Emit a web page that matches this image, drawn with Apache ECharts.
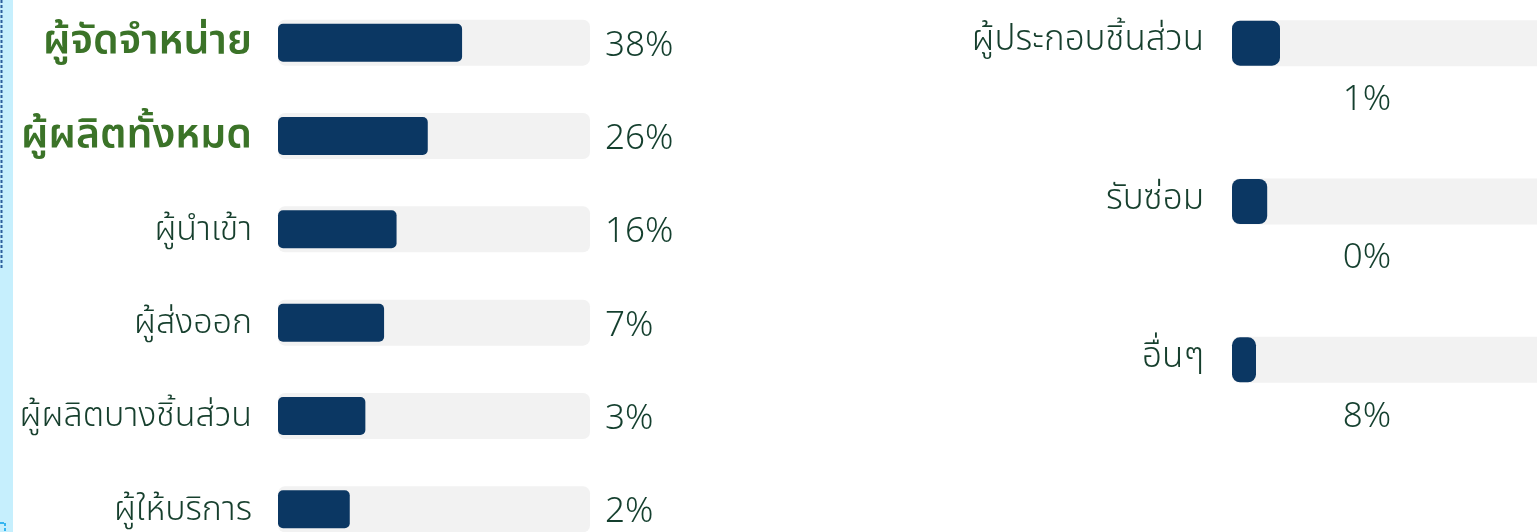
<!DOCTYPE html>
<html>
<head>
<meta charset="utf-8">
<title>chart</title>
<script src="https://cdn.jsdelivr.net/npm/echarts@6/dist/echarts.min.js"></script>
<style>
  html, body { margin: 0; padding: 0; background: #fff; }
  #main { width: 1537px; height: 532px; }
</style>
</head>
<body>
<div id="main"></div>
<script>
// ข้อมูลฝั่งซ้าย
var leftCategories = ['ผู้จัดจำหน่าย', 'ผู้ผลิตทั้งหมด', 'ผู้นำเข้า', 'ผู้ส่งออก', 'ผู้ผลิตบางชิ้นส่วน', 'ผู้ให้บริการ'];
var leftPct = ['38%', '26%', '16%', '7%', '3%', '2%'];
// ความยาวแท่ง (อ่านจากภาพ, หน่วยเทียบกับราง = 100)
var leftBar = [59, 48, 38, 34, 28, 23];

// ข้อมูลฝั่งขวา
var rightCategories = ['ผู้ประกอบชิ้นส่วน', 'รับซ่อม', 'อื่นๆ'];
var rightPct = ['1%', '0%', '8%'];
var rightBar = [15, 11, 7.5];

var trackMax = 100;
var boldRows = [0, 1];

var thaiFont = '"Noto Sans Thai", "Loma", "Garuda", "Noto Sans", sans-serif';

function fill(arr) {
	return arr.map(function () { return trackMax; });
}

var myChart = echarts.init(document.getElementById('main'));

myChart.setOption({
	animation: false,
	backgroundColor: '#fff',
	grid: [
		{ left: 278, top: -4, width: 312, height: 560, outerBoundsMode: 'none' },
		{ left: 1232, top: -36, width: 320, height: 475, outerBoundsMode: 'none' }
	],
	xAxis: [
		{ gridIndex: 0, type: 'value', min: 0, max: trackMax, show: false },
		{ gridIndex: 1, type: 'value', min: 0, max: trackMax, show: false }
	],
	yAxis: [
		{
			gridIndex: 0, type: 'category', inverse: true, data: leftCategories,
			axisLine: { show: false }, axisTick: { show: false },
			axisLabel: {
				margin: 26,
				fontFamily: thaiFont,
				fontSize: 34,
				fontWeight: 300,
				color: '#163f2d',
				padding: [7, 0, 0, 0],
				formatter: function (v, i) {
					return boldRows.indexOf(i) >= 0 ? '{b|' + v + '}' : v;
				},
				rich: {
					b: { fontFamily: thaiFont, fontSize: 41, fontWeight: 600, color: '#3b7328' }
				}
			}
		},
		{ gridIndex: 0, type: 'category', inverse: true, data: leftCategories, show: false },
		{
			gridIndex: 1, type: 'category', inverse: true, data: rightCategories,
			axisLine: { show: false }, axisTick: { show: false },
			axisLabel: { margin: 28, fontFamily: thaiFont, fontSize: 35, fontWeight: 300, color: '#163f2d', padding: [6, 0, 0, 0] }
		},
		{ gridIndex: 1, type: 'category', inverse: true, data: rightCategories, show: false }
	],
	series: [
		// รางพื้นหลัง ซ้าย
		{
			type: 'bar', xAxisIndex: 0, yAxisIndex: 0, data: fill(leftBar),
			barWidth: 46, silent: true,
			itemStyle: { color: '#f2f2f2', borderRadius: 7 },
			label: {
				show: true, position: 'right', distance: 15, offset: [0, 3],
				fontFamily: '"Noto Sans", sans-serif', fontSize: 35, fontWeight: 300, color: '#143f2e',
				formatter: function (p) { return leftPct[p.dataIndex]; }
			}
		},
		// แท่งค่า ซ้าย
		{
			type: 'bar', xAxisIndex: 0, yAxisIndex: 1, data: leftBar,
			barWidth: 38,
			itemStyle: { color: '#0b3763', borderRadius: 5 }
		},
		// รางพื้นหลัง ขวา
		{
			type: 'bar', xAxisIndex: 1, yAxisIndex: 2, data: fill(rightBar),
			barWidth: 46, silent: true,
			itemStyle: { color: '#f2f2f2', borderRadius: 7 },
			label: {
				show: true, position: [135, 80], align: 'center', verticalAlign: 'middle',
				fontFamily: '"Noto Sans", sans-serif', fontSize: 35, fontWeight: 300, color: '#143f2e',
				formatter: function (p) { return rightPct[p.dataIndex]; }
			}
		},
		// แท่งค่า ขวา
		{
			type: 'bar', xAxisIndex: 1, yAxisIndex: 3, data: rightBar,
			barWidth: 45,
			itemStyle: { color: '#0b3763', borderRadius: 8 }
		}
	],
	// แถบด้านซ้ายของภาพ
	graphic: [
		{ type: 'rect', shape: { x: 0, y: 0, width: 13, height: 532 }, style: { fill: '#c6effd' } },
		{ type: 'line', shape: { x1: 1.5, y1: 0, x2: 1.5, y2: 268 }, style: { stroke: '#2c5f9c', lineWidth: 2, lineDash: [3, 2] } },
		{ type: 'line', shape: { x1: 0, y1: 523, x2: 4, y2: 523 }, style: { stroke: '#35b6f0', lineWidth: 2 } },
		{ type: 'line', shape: { x1: 5, y1: 523, x2: 5, y2: 532 }, style: { stroke: '#35b6f0', lineWidth: 2, lineDash: [3, 2] } }
	]
});
</script>
</body>
</html>
